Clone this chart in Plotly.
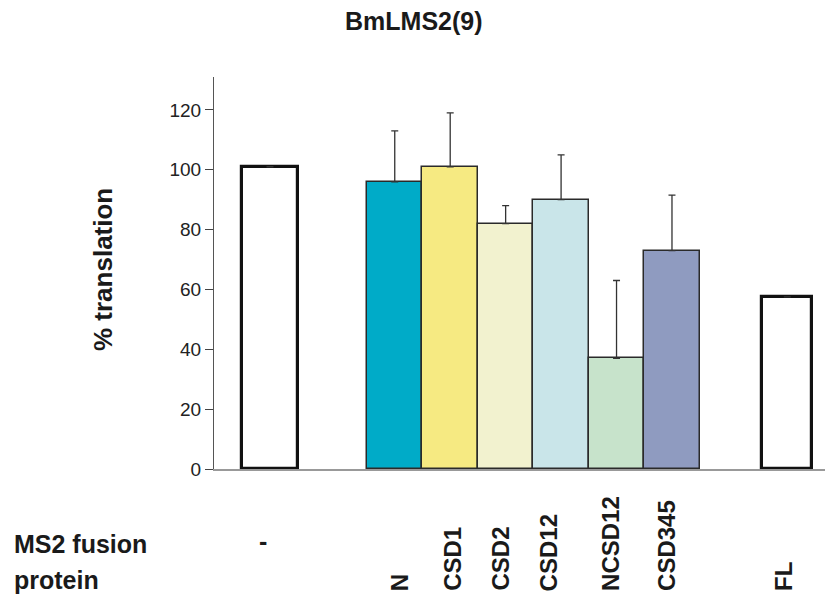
import plotly.graph_objects as go

# ---- data ----
categories = ["-", "N", "CSD1", "CSD2", "CSD12", "NCSD12", "CSD345", "FL"]
values = [101, 96, 101, 82, 90, 37, 73, 57.5]
err_upper = [None, 17, 18, 6, 15, 26, 18.5, None]
y_ticks = [0, 20, 40, 60, 80, 100, 120]

# ---- layout / style ----
bar_pos = [0, 2.25, 3.25, 4.25, 5.25, 6.25, 7.25, 9.33]
bar_width = [1, 1, 1, 1, 1, 1, 1, 0.9]
label_pos = [-0.13, 2.34, 3.28, 4.14, 5.03, 6.14, 7.15, 9.26]
fill_colors = ["#ffffff", "#00abc8", "#f6ea82", "#f2f2cf", "#c9e5e9",
               "#c7e3cb", "#8f9bc0", "#ffffff"]
line_widths = [3.2, 1.5, 1.5, 1.5, 1.5, 1.5, 1.5, 3.2]
line_colors = ["#111111", "#2a2a2a", "#2a2a2a", "#2a2a2a", "#2a2a2a",
               "#2a2a2a", "#2a2a2a", "#111111"]

FONT = "Liberation Sans, Arial, Helvetica, sans-serif"

# page body has an 8px margin; work in page pixels and subtract it
OFF = 8
W, H = 833 - OFF, 601 - OFF
L, R, T, B = 214 - OFF, 3, 77 - OFF, 132
pw, ph = W - L - R, H - T - B

def px_x(x):
    return (x - OFF - L) / pw

def px_y(y):
    return (H - B - (y - OFF)) / ph

fig = go.Figure()
fig.add_trace(go.Bar(
    x=bar_pos, y=values, width=bar_width,
    marker=dict(color=fill_colors, line=dict(color=line_colors, width=line_widths)),
    error_y=dict(type="data", array=err_upper, symmetric=False,
                 arrayminus=[0] * len(values), visible=True,
                 color="#333333", thickness=1.3, width=3.5),
    hoverinfo="skip", showlegend=False,
))

annotations = []
for cat, lp in zip(categories, label_pos):
    if cat == "-":
        annotations.append(dict(x=lp, y=px_y(541), xref="x", yref="paper",
                                text="<b>-</b>", showarrow=False,
                                font=dict(family=FONT, size=25, color="#1a1a1a"),
                                xanchor="center", yanchor="middle"))
    else:
        annotations.append(dict(x=lp, y=px_y(593), xref="x", yref="paper",
                                text="<b>" + cat + "</b>", showarrow=False,
                                textangle=-90,
                                font=dict(family=FONT, size=24, color="#1a1a1a"),
                                xanchor="center", yanchor="bottom"))

annotations += [
    dict(x=px_x(12), y=px_y(544), xref="paper", yref="paper",
         text="<b>MS2 fusion</b>", showarrow=False,
         font=dict(family=FONT, size=25, color="#1a1a1a"),
         xanchor="left", yanchor="middle"),
    dict(x=px_x(12), y=px_y(580), xref="paper", yref="paper",
         text="<b>protein</b>", showarrow=False,
         font=dict(family=FONT, size=25, color="#1a1a1a"),
         xanchor="left", yanchor="middle"),
    dict(x=px_x(103), y=px_y(270), xref="paper", yref="paper",
         text="<b>% translation</b>", showarrow=False, textangle=-90,
         font=dict(family=FONT, size=26, color="#1a1a1a"),
         xanchor="center", yanchor="middle"),
    dict(x=px_x(414), y=px_y(21), xref="paper", yref="paper",
         text="<b>BmLMS2(9)</b>", showarrow=False,
         font=dict(family=FONT, size=25, color="#1a1a1a"),
         xanchor="center", yanchor="middle"),
]

fig.update_layout(
    width=W, height=H,
    margin=dict(l=L, r=R, t=T, b=B, pad=0),
    paper_bgcolor="white", plot_bgcolor="white",
    bargap=0,
    xaxis=dict(range=[-1.01, 10.1], showgrid=False, zeroline=False,
               showticklabels=False, ticks="", showline=True,
               linecolor="#999999", linewidth=1.5, fixedrange=True),
    yaxis=dict(range=[0, 131], showgrid=False, zeroline=False,
               tickvals=y_ticks, ticktext=[str(t) for t in y_ticks],
               ticks="outside", ticklen=8, tickwidth=1.2, tickcolor="#444444",
               tickfont=dict(family=FONT, size=19, color="#222222"),
               showline=True, linecolor="#555555", linewidth=1.2,
               fixedrange=True),
    annotations=annotations,
    font=dict(family=FONT),
)

fig.write_html("out.html")
